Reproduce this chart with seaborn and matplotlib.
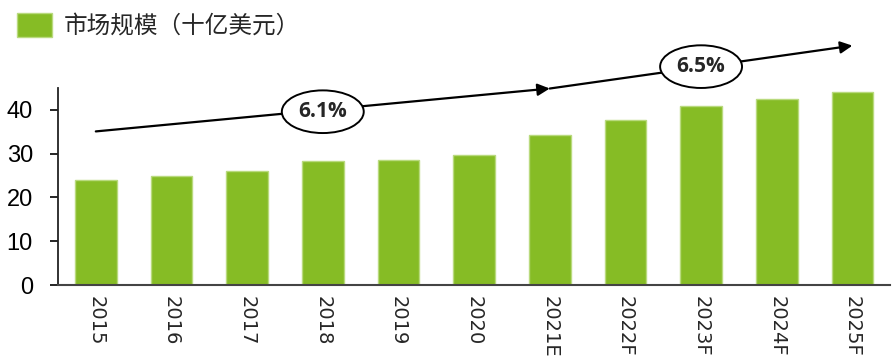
import matplotlib
matplotlib.use("Agg")
import matplotlib.pyplot as plt
import seaborn as sns

# data
years = ["2015", "2016", "2017", "2018", "2019", "2020",
         "2021E", "2022F", "2023F", "2024F", "2025F"]
market_size = [24.0, 25.0, 26.1, 28.4, 28.6, 29.7, 34.3, 37.7, 40.9, 42.5, 44.0]
series_label = "市场规模（十亿美元）"
cagr_labels = ["6.1%", "6.5%"]

GREEN = "#86BC25"

sns.set_theme(style="white")
plt.rcParams["font.family"] = ["Open Sans", "Noto Sans CJK SC", "DejaVu Sans"]

fig = plt.figure(figsize=(8.92, 3.61), dpi=100)
ax = fig.add_axes([0.065, 0.2105, 0.933, 0.5455])

sns.barplot(x=years, y=market_size, color=GREEN, width=0.55,
            edgecolor="#B9DA7E", linewidth=1, saturation=1,
            label=series_label, ax=ax)
if ax.get_legend() is not None:
    ax.get_legend().remove()

ax.set_ylim(0, 45)
ax.set_xlim(-0.5, 10.5)
ax.set_yticks([0, 10, 20, 30, 40])
ax.tick_params(axis="y", labelsize=17, length=6, width=1.2, direction="out",
               left=True, colors="black", pad=12)
for lbl in ax.get_yticklabels():
    lbl.set_fontfamily("Liberation Sans")
ax.tick_params(axis="x", length=0, pad=8)
ax.set_xticks(range(len(years)))
ax.set_xticklabels(years, rotation=270, fontsize=14, va="top", ha="center")
for lbl in ax.get_xticklabels():
    lbl.set_fontfamily("DejaVu Sans")

sns.despine(ax=ax, top=True, right=True)
ax.spines["left"].set_color("#222222")
ax.spines["left"].set_linewidth(1.3)
ax.spines["bottom"].set_color("#444444")
ax.spines["bottom"].set_linewidth(1.5)

# CAGR arrows and labels
arrow_kw = dict(arrowstyle="-|>", mutation_scale=18, lw=1.6, color="black",
                shrinkA=0, shrinkB=0)
ax.annotate("", xy=(6, 44.9), xytext=(0, 35.1), arrowprops=arrow_kw,
            annotation_clip=False)
ax.annotate("", xy=(10, 54.7), xytext=(6, 44.9), arrowprops=arrow_kw,
            annotation_clip=False)

ellipse = dict(boxstyle="ellipse,pad=0.22", fc="white", ec="black", lw=1.4)
ax.text(3, 39.6, cagr_labels[0], ha="center", va="center", fontsize=15,
        fontweight="bold", bbox=ellipse, clip_on=False, zorder=5)
ax.text(8, 49.9, cagr_labels[1], ha="center", va="center", fontsize=15,
        fontweight="bold", bbox=ellipse, clip_on=False, zorder=5)

handles, labels = ax.get_legend_handles_labels()
fig.legend(handles[:1], [series_label], loc="upper left",
           bbox_to_anchor=(0.0, 1.01), frameon=False,
           fontsize=17, handlelength=1.5, handleheight=1.2, handletextpad=0.5,
           borderaxespad=0.3)
ax.set_xlabel("")
ax.set_ylabel("")

fig.savefig("out.png", dpi=100)
